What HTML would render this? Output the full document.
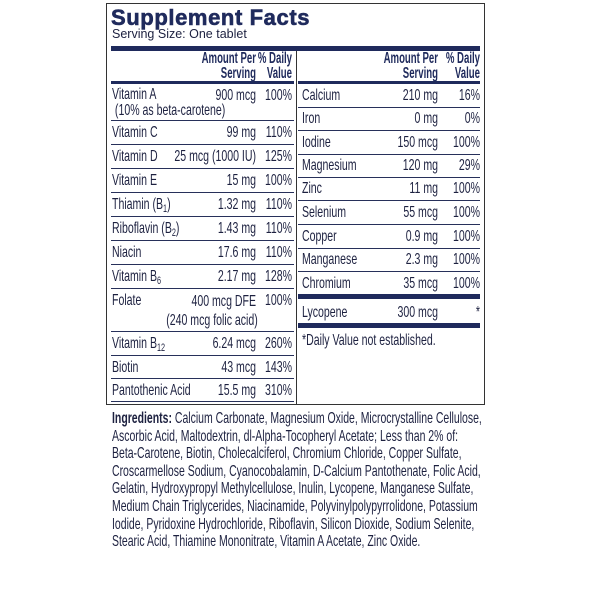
<!DOCTYPE html>
<html><head><meta charset="utf-8"><style>
*{margin:0;padding:0;box-sizing:border-box}
body{width:600px;height:600px;background:#fff;position:relative;overflow:hidden;font-family:"Liberation Sans",sans-serif;color:#1d2140;font-size:16px}
.a{position:absolute;white-space:nowrap;line-height:17px;transform:scaleX(0.66);transform-origin:left top}
.r{text-align:right;transform-origin:right top}
.h{transform:scaleX(0.6)}
.hl{position:absolute;height:1px;background:#27305a}
.tb{position:absolute;background:#1f2a5c}
b{font-weight:bold}
sub{font-size:11px;vertical-align:-3px;line-height:0}
</style></head><body>
<div style="position:absolute;left:106px;top:3px;width:379px;height:402px;border:1px solid #333"></div>
<div class="a" style="left:111px;top:5px;transform:none;font-weight:900;font-size:22px;line-height:26px;color:#1f2a5c;letter-spacing:0.6px;-webkit-text-stroke:0.6px #1f2a5c">Supplement Facts</div>
<div class="a" style="left:112px;top:26px;transform:none;font-size:12.5px;line-height:16px">Serving Size: One tablet</div>
<div class="tb" style="left:111px;top:46px;width:369px;height:5px"></div>
<div class="tb" style="left:111px;top:81px;width:183px;height:3px"></div>
<div class="tb" style="left:298px;top:81px;width:182px;height:3px"></div>
<div style="position:absolute;left:296px;top:51px;width:1px;height:354px;background:#333"></div>
<div class="a r h" style="left:130px;width:126px;top:51px;line-height:15px;font-weight:bold;color:#1f2a5c">Amount Per<br>Serving</div>
<div class="a r h" style="left:222px;width:70px;top:51px;line-height:15px;font-weight:bold;color:#1f2a5c">% Daily<br>Value</div>
<div class="a r h" style="left:310px;width:128px;top:51px;line-height:15px;font-weight:bold;color:#1f2a5c">Amount Per<br>Serving</div>
<div class="a r h" style="left:410px;width:70px;top:51px;line-height:15px;font-weight:bold;color:#1f2a5c">% Daily<br>Value</div>
<div class="a" style="left:112px;top:87px;line-height:16px">Vitamin A<br>&nbsp;(10% as beta-carotene)</div>
<div class="a r" style="left:120px;width:136px;top:87px">900 mcg</div>
<div class="a r" style="left:222px;width:70px;top:87px">100%</div>
<div class="hl" style="left:111px;top:120px;width:183px"></div>
<div class="a" style="left:112px;top:124px">Vitamin C</div><div class="a r" style="left:120px;width:136px;top:124px">99 mg</div><div class="a r" style="left:222px;width:70px;top:124px">110%</div>
<div class="hl" style="left:111px;top:144px;width:183px"></div>
<div class="a" style="left:112px;top:148px">Vitamin D</div><div class="a r" style="left:120px;width:136px;top:148px">25 mcg (1000 IU)</div><div class="a r" style="left:222px;width:70px;top:148px">125%</div>
<div class="hl" style="left:111px;top:168px;width:183px"></div>
<div class="a" style="left:112px;top:172px">Vitamin E</div><div class="a r" style="left:120px;width:136px;top:172px">15 mg</div><div class="a r" style="left:222px;width:70px;top:172px">100%</div>
<div class="hl" style="left:111px;top:192px;width:183px"></div>
<div class="a" style="left:112px;top:196px">Thiamin (B<sub>1</sub>)</div><div class="a r" style="left:120px;width:136px;top:196px">1.32 mg</div><div class="a r" style="left:222px;width:70px;top:196px">110%</div>
<div class="hl" style="left:111px;top:216px;width:183px"></div>
<div class="a" style="left:112px;top:220px">Riboflavin (B<sub>2</sub>)</div><div class="a r" style="left:120px;width:136px;top:220px">1.43 mg</div><div class="a r" style="left:222px;width:70px;top:220px">110%</div>
<div class="hl" style="left:111px;top:240px;width:183px"></div>
<div class="a" style="left:112px;top:244px">Niacin</div><div class="a r" style="left:120px;width:136px;top:244px">17.6 mg</div><div class="a r" style="left:222px;width:70px;top:244px">110%</div>
<div class="hl" style="left:111px;top:264px;width:183px"></div>
<div class="a" style="left:112px;top:268px">Vitamin B<sub>6</sub></div><div class="a r" style="left:120px;width:136px;top:268px">2.17 mg</div><div class="a r" style="left:222px;width:70px;top:268px">128%</div>
<div class="hl" style="left:111px;top:288px;width:183px"></div>
<div class="a" style="left:112px;top:292px">Folate</div><div class="a r" style="left:120px;width:136px;top:292px;line-height:19px">400 mcg DFE<br>(240 mcg folic acid)</div><div class="a r" style="left:222px;width:70px;top:292px">100%</div>
<div class="hl" style="left:111px;top:331px;width:183px"></div>
<div class="a" style="left:112px;top:335px">Vitamin B<sub>12</sub></div><div class="a r" style="left:120px;width:136px;top:335px">6.24 mcg</div><div class="a r" style="left:222px;width:70px;top:335px">260%</div>
<div class="hl" style="left:111px;top:355px;width:183px"></div>
<div class="a" style="left:112px;top:359px">Biotin</div><div class="a r" style="left:120px;width:136px;top:359px">43 mcg</div><div class="a r" style="left:222px;width:70px;top:359px">143%</div>
<div class="hl" style="left:111px;top:378px;width:183px"></div>
<div class="a" style="left:112px;top:382px">Pantothenic Acid</div><div class="a r" style="left:120px;width:136px;top:382px">15.5 mg</div><div class="a r" style="left:222px;width:70px;top:382px">310%</div>
<div class="hl" style="left:111px;top:401px;width:183px"></div>
<div class="a" style="left:302px;top:87px">Calcium</div><div class="a r" style="left:310px;width:128px;top:87px">210 mg</div><div class="a r" style="left:410px;width:70px;top:87px">16%</div>
<div class="hl" style="left:298px;top:107px;width:182px"></div>
<div class="a" style="left:302px;top:110px">Iron</div><div class="a r" style="left:310px;width:128px;top:110px">0 mg</div><div class="a r" style="left:410px;width:70px;top:110px">0%</div>
<div class="hl" style="left:298px;top:130px;width:182px"></div>
<div class="a" style="left:302px;top:134px">Iodine</div><div class="a r" style="left:310px;width:128px;top:134px">150 mcg</div><div class="a r" style="left:410px;width:70px;top:134px">100%</div>
<div class="hl" style="left:298px;top:154px;width:182px"></div>
<div class="a" style="left:302px;top:157px">Magnesium</div><div class="a r" style="left:310px;width:128px;top:157px">120 mg</div><div class="a r" style="left:410px;width:70px;top:157px">29%</div>
<div class="hl" style="left:298px;top:177px;width:182px"></div>
<div class="a" style="left:302px;top:180px">Zinc</div><div class="a r" style="left:310px;width:128px;top:180px">11 mg</div><div class="a r" style="left:410px;width:70px;top:180px">100%</div>
<div class="hl" style="left:298px;top:200px;width:182px"></div>
<div class="a" style="left:302px;top:204px">Selenium</div><div class="a r" style="left:310px;width:128px;top:204px">55 mcg</div><div class="a r" style="left:410px;width:70px;top:204px">100%</div>
<div class="hl" style="left:298px;top:224px;width:182px"></div>
<div class="a" style="left:302px;top:228px">Copper</div><div class="a r" style="left:310px;width:128px;top:228px">0.9 mg</div><div class="a r" style="left:410px;width:70px;top:228px">100%</div>
<div class="hl" style="left:298px;top:248px;width:182px"></div>
<div class="a" style="left:302px;top:251px">Manganese</div><div class="a r" style="left:310px;width:128px;top:251px">2.3 mg</div><div class="a r" style="left:410px;width:70px;top:251px">100%</div>
<div class="hl" style="left:298px;top:271px;width:182px"></div>
<div class="a" style="left:302px;top:275px">Chromium</div><div class="a r" style="left:310px;width:128px;top:275px">35 mcg</div><div class="a r" style="left:410px;width:70px;top:275px">100%</div>
<div class="tb" style="left:298px;top:294px;width:182px;height:5px"></div>
<div class="a" style="left:302px;top:304px">Lycopene</div><div class="a r" style="left:310px;width:128px;top:304px">300 mcg</div><div class="a r" style="left:410px;width:70px;top:304px">*</div>
<div class="tb" style="left:298px;top:323px;width:182px;height:5px"></div>
<div class="a" style="left:302px;top:332px">*Daily Value not established.</div>
<div class="a" style="left:112px;top:410px;line-height:17.6px;font-size:16px;transform:scaleX(0.655)"><b>Ingredients:</b> Calcium Carbonate, Magnesium Oxide, Microcrystalline Cellulose,<br>Ascorbic Acid, Maltodextrin, dl-Alpha-Tocopheryl Acetate; Less than 2% of:<br>Beta-Carotene, Biotin, Cholecalciferol, Chromium Chloride, Copper Sulfate,<br>Croscarmellose Sodium, Cyanocobalamin, D-Calcium Pantothenate, Folic Acid,<br>Gelatin, Hydroxypropyl Methylcellulose, Inulin, Lycopene, Manganese Sulfate,<br>Medium Chain Triglycerides, Niacinamide, Polyvinylpolypyrrolidone, Potassium<br>Iodide, Pyridoxine Hydrochloride, Riboflavin, Silicon Dioxide, Sodium Selenite,<br>Stearic Acid, Thiamine Mononitrate, Vitamin A Acetate, Zinc Oxide.</div>
</body></html>
